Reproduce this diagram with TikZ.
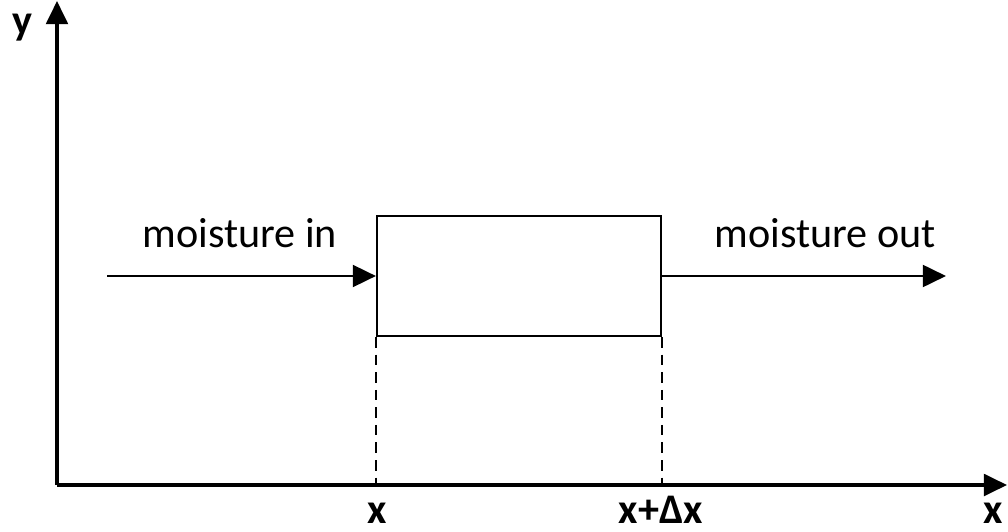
\documentclass[tikz,border=0pt]{standalone}
\usepackage{fontspec}
\setmainfont{Carlito}
\usetikzlibrary{arrows.meta}
\tikzset{>={Triangle[length=6.6pt,width=6.2pt]}}
\tikzset{
  axis/.style={line width=0.9pt, ->},
  flow/.style={line width=0.85pt, ->},
  guide/.style={line width=0.5pt, dash pattern=on 3pt off 2pt},
  tick/.style={anchor=base, font=\fontsize{12}{14}\selectfont\bfseries}
}

\begin{document}
\begin{tikzpicture}[font=\fontsize{12}{14}\selectfont]
  \useasboundingbox (0,0) rectangle (10.08,5.31);

  % axes
  \coordinate (O) at (0.57,0.46);
  \coordinate (ytip) at (0.57,5.30);
  \coordinate (xtip) at (10.07,0.46);
  \draw[axis] (O) -- (ytip);
  \draw[axis] (O) -- (xtip);
  \node (ylab) at (0.22,4.96) [tick] {y};
  \node (xlab) at (9.93,0.08) [tick] {x};

  % control volume
  \node (cv) at (5.19,2.55) [draw, line width=0.6pt, minimum width=2.84cm, minimum height=1.20cm, inner sep=0pt] {};

  % moisture flux
  \coordinate (in) at (1.07,2.55);
  \coordinate (out) at (9.46,2.55);
  \draw[flow] (in) -- (cv.west);
  \draw[flow] (cv.east) -- (out);
  \node (min) at (2.40,2.83) [anchor=base] {moisture in};
  \node (mout) at (8.25,2.83) [anchor=base] {moisture out};

  % projection onto the x axis
  \draw[guide] (cv.south west) -- (cv.south west |- O);
  \draw[guide] (cv.south east) -- (cv.south east |- O);
  \node (x0) at (3.77,0.08) [tick] {x};
  \node (x1) at (6.61,0.08) [tick] {x+Δx};

\end{tikzpicture}
\end{document}
